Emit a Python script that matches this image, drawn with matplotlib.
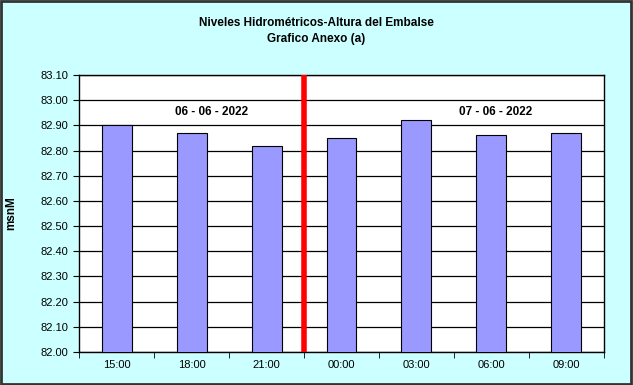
import numpy as np
import matplotlib
matplotlib.use("Agg")
import matplotlib.pyplot as plt
from matplotlib.patches import Rectangle

horas = ["15:00", "18:00", "21:00", "00:00", "03:00", "06:00", "09:00"]
niveles = [82.90, 82.87, 82.82, 82.85, 82.92, 82.86, 82.87]
fechas = ["06 - 06 - 2022", "07 - 06 - 2022"]
yticks = [82.00, 82.10, 82.20, 82.30, 82.40, 82.50, 82.60, 82.70, 82.80, 82.90, 83.00, 83.10]

plt.rcParams['font.family'] = ['Liberation Sans', 'DejaVu Sans']

fig = plt.figure(figsize=(6.33, 3.85), dpi=100)
fig.patch.set_facecolor("#CCFFFF")
fig.patches.append(Rectangle((0.002, 0.003), 0.995, 0.994, transform=fig.transFigure,
                             fill=False, edgecolor="#333333", linewidth=2))

ax = fig.add_axes([0.125, 0.086, 0.829, 0.719])
x = np.arange(len(horas))
ax.bar(x, niveles, width=0.4, color="#9999FF", edgecolor="black", linewidth=0.8, zorder=3)
ax.set_xlim(-0.5, len(horas) - 0.5)
ax.set_ylim(82.0, 83.1)
ax.set_yticks(yticks)
ax.set_yticklabels(["%.2f" % v for v in yticks], fontsize=8)
ax.set_xticks(x)
ax.set_xticklabels(horas, fontsize=8)
ax.set_xticks(np.arange(-0.5, len(horas)), minor=True)
ax.tick_params(axis="x", which="major", length=0, pad=6)
ax.tick_params(axis="x", which="minor", length=4, direction="out")
ax.tick_params(axis="y", length=4, direction="out")
ax.yaxis.grid(True, color="black", linewidth=0.9, zorder=0)
ax.set_axisbelow(True)
for s in ax.spines.values():
    s.set_linewidth(1.0)

ax.axvline(2.5, color="red", linewidth=4, zorder=4)
ax.text(1.27, 82.955, fechas[0], ha="center", va="center", fontsize=8.5, fontweight="bold")
ax.text(5.05, 82.955, fechas[1], ha="center", va="center", fontsize=8.5, fontweight="bold")

ax.set_ylabel("msnM", fontsize=8.5, fontweight="bold", labelpad=17)

fig.text(0.5, 0.94, "Niveles Hidrométricos-Altura del Embalse", ha="center", va="center",
         fontsize=8.5, fontweight="bold")
fig.text(0.5, 0.899, "Grafico Anexo (a)", ha="center", va="center", fontsize=8.5, fontweight="bold")

fig.savefig("out.png", dpi=100, facecolor=fig.get_facecolor())
